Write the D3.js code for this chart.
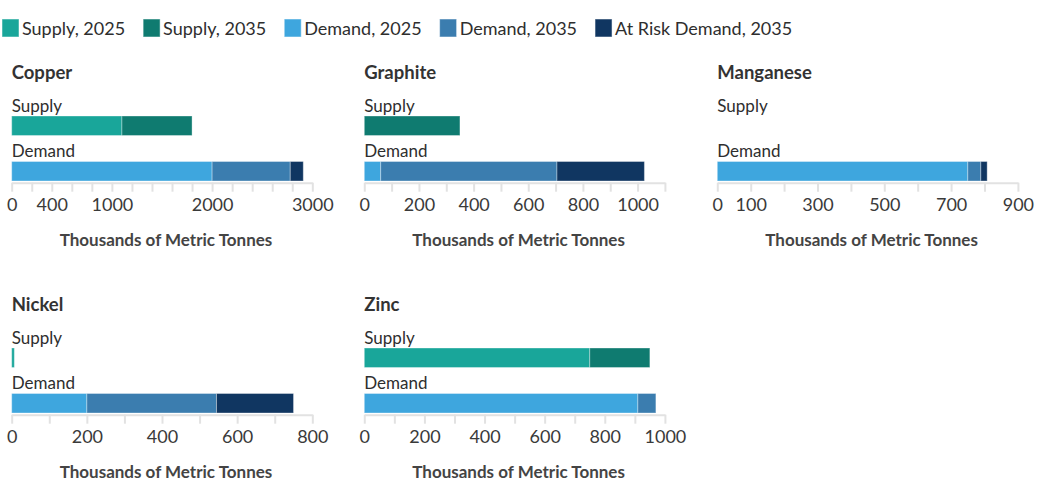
<!DOCTYPE html>
<html lang="en">
<head>
<meta charset="UTF-8">
<title>Critical minerals: supply and demand</title>
<script src="https://d3js.org/d3.v7.min.js"></script>
<style>
  body { margin: 0; background: #fff; font-family: 'Lato', sans-serif; }
  svg { display: block; }
  .label { fill: #2e2e2e; font-size: 17px; }
  .legend-label { fill: #2e2e2e; font-size: 18px; }
  .title { fill: #333; font-size: 18.5px; font-weight: 700; }
  .axis-title { fill: #444; font-size: 17px; font-weight: 700; }
  .tick text { fill: #3a3a3a; font-size: 18px; font-family: 'Lato', sans-serif; }
  .tick line, .domain { stroke: #e2e2e2; stroke-width: 2; }
</style>
</head>
<body>
<svg id="chart" width="1039" height="494"></svg>
<script>
// values, thousands of metric tonnes (end of each segment)
const minerals   = ["Copper", "Graphite", "Manganese", "Nickel", "Zinc"];
const supply2025 = [1100, 0, 0, 7, 750];
const supply2035 = [1800, 350, 0, 7, 950];
const demand2025 = [2000, 60, 750, 200, 910];
const demand2035 = [2780, 705, 789, 545, 970];
const atRisk2035 = [2910, 1025, 808, 750, 970];

const axisMax    = [3000, 1100, 900, 800, 1000];
const tickStep   = [200, 100, 100, 100, 100];
const tickLabels = [
  [0, 400, 1000, 2000, 3000],
  [0, 200, 400, 600, 800, 1000],
  [0, 100, 300, 500, 700, 900],
  [0, 200, 400, 600, 800],
  [0, 200, 400, 600, 800, 1000]
];

const seriesNames  = ["Supply, 2025", "Supply, 2035", "Demand, 2025", "Demand, 2035", "At Risk Demand, 2035"];
const seriesColors = ["#19a69a", "#0f7b70", "#3ea6de", "#3b7daf", "#103661"];

const svg = d3.select("#chart");

// legend
let lx = 2;
const legend = svg.append("g").attr("transform", "translate(0,19)");
seriesNames.forEach((name, i) => {
  const g = legend.append("g").attr("transform", `translate(${lx},0)`);
  g.append("rect").attr("width", 17).attr("height", 18)
    .attr("fill", seriesColors[i]).attr("stroke", "rgba(255,255,255,0.5)");
  const t = g.append("text").attr("class", "legend-label").attr("x", 20).attr("y", 9.5)
    .attr("dy", "0.35em").text(name);
  lx += 20 + t.node().getComputedTextLength() + 18;
});

const colX = [11.7, 364.3, 717.3];
const rowY = [0, 232];
const panelW = 300.6;

minerals.forEach((m, i) => {
  const ox = colX[i % 3], oy = rowY[Math.floor(i / 3)];
  const g = svg.append("g").attr("transform", `translate(${ox},${oy})`);
  const x = d3.scaleLinear().domain([0, axisMax[i]]).range([0, panelW]);

  g.append("text").attr("class", "title").attr("x", 0).attr("y", 73).attr("dy", "0.35em").text(m);
  g.append("text").attr("class", "label").attr("x", 0).attr("y", 106).attr("dy", "0.35em").text("Supply");
  g.append("text").attr("class", "label").attr("x", 0).attr("y", 151).attr("dy", "0.35em").text("Demand");

  const rows = [
    { y: 116, ends: [supply2025[i], supply2035[i]], colors: seriesColors.slice(0, 2) },
    { y: 161.5, ends: [demand2025[i], demand2035[i], atRisk2035[i]], colors: seriesColors.slice(2) }
  ];
  rows.forEach(r => {
    let start = 0;
    r.ends.forEach((end, k) => {
      if (end > start) {
        g.append("rect")
          .attr("x", x(start)).attr("y", r.y)
          .attr("width", x(end) - x(start)).attr("height", 19.5)
          .attr("fill", r.colors[k])
          .attr("stroke", "rgba(255,255,255,0.35)").attr("stroke-width", 1);
        start = end;
      }
    });
  });

  const ticks = d3.range(0, axisMax[i] + 1, tickStep[i]);
  const axis = g.append("g").attr("transform", "translate(0,182.7)")
    .call(d3.axisBottom(x).tickValues(ticks).tickSize(9).tickSizeOuter(0)
      .tickFormat(d => tickLabels[i].includes(d) ? d : ""));
  axis.selectAll(".tick text").attr("dy", "0.9em");

  g.append("text").attr("class", "axis-title").attr("x", panelW / 2 + 4).attr("y", 240)
    .attr("dy", "0.35em").attr("text-anchor", "middle").text("Thousands of Metric Tonnes");
});
</script>
</body>
</html>
